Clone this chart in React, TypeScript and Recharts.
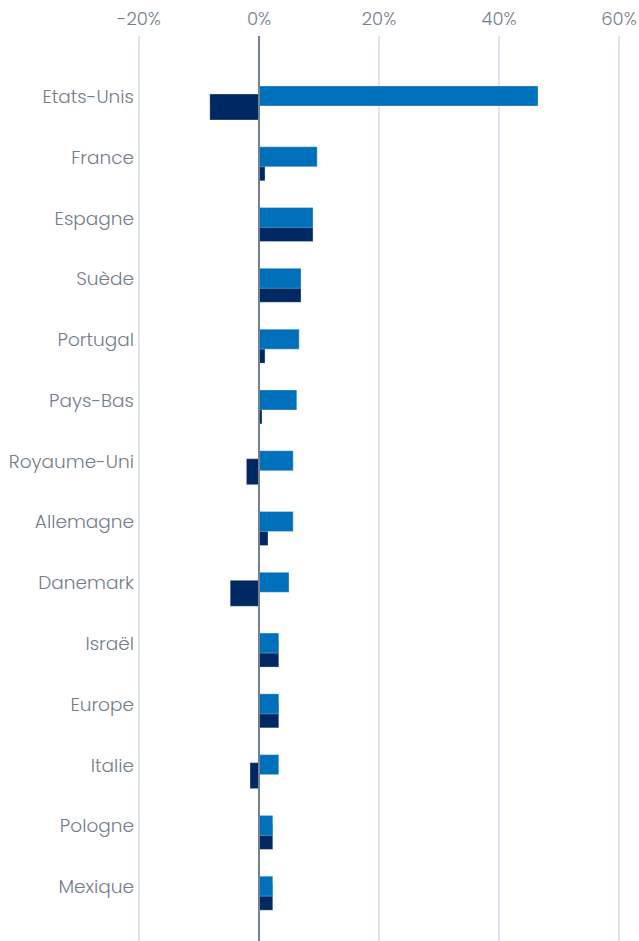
import React from 'react';
import { BarChart, Bar, XAxis, YAxis, CartesianGrid, ReferenceLine } from 'recharts';

const countries = [
  'Etats-Unis', 'France', 'Espagne', 'Suède', 'Portugal', 'Pays-Bas', 'Royaume-Uni',
  'Allemagne', 'Danemark', 'Israël', 'Europe', 'Italie', 'Pologne', 'Mexique',
];
const seriesA = [46.5, 9.7, 9.0, 7.0, 6.7, 6.3, 5.7, 5.7, 5.0, 3.3, 3.3, 3.3, 2.3, 2.3];
const seriesB = [-8.2, 1.0, 9.0, 7.0, 1.0, 0.5, -2.1, 1.5, -4.8, 3.3, 3.3, -1.5, 2.3, 2.3];
const xTicks = [-20, 0, 20, 40, 60];

const data = countries.map((name, i) => ({ name, a: seriesA[i], b: seriesB[i] }));

const textColor = '#737d8c';
const font = "Poppins, 'Open Sans', sans-serif";

export default function App() {
  return (
    <div style={{ position: 'absolute', left: 0, top: 0, width: 639, height: 941, overflow: 'hidden', background: '#fff' }}>
      <BarChart
        width={639}
        height={948}
        data={data}
        layout="vertical"
        margin={{ top: 0, right: 20, bottom: 0, left: 0 }}
      >
        <CartesianGrid horizontal={false} stroke="#dde5ee" strokeWidth={2} />
        <XAxis
          type="number"
          orientation="top"
          domain={[-20, 60]}
          ticks={xTicks}
          tickFormatter={(v) => `${v}%`}
          axisLine={false}
          tickLine={false}
          height={36}
          tickSize={6}
          tickMargin={5}
          tick={{ fill: textColor, fontSize: 18, fontFamily: font, fontWeight: 300 }}
        />
        <YAxis
          yAxisId="main"
          type="category"
          dataKey="name"
          width={139}
          axisLine={false}
          tickLine={false}
          tickSize={0}
          tickMargin={5}
          padding={{ top: 30, bottom: 31 }}
          interval={0}
          tick={{ fill: textColor, fontSize: 18.5, fontFamily: font, fontWeight: 300 }}
        />
        <YAxis
          yAxisId="shift"
          type="category"
          dataKey="name"
          hide
          padding={{ top: 41, bottom: 20 }}
        />
        <Bar
          dataKey="b"
          yAxisId="shift"
          fill="#002863"
          stroke="#ffffff"
          strokeOpacity={0.3}
          barSize={26}
          isAnimationActive={false}
        />
        <Bar
          dataKey="a"
          yAxisId="main"
          fill="#0070bb"
          stroke="#ffffff"
          strokeOpacity={0.3}
          barSize={20}
          isAnimationActive={false}
        />
        <ReferenceLine x={0} yAxisId="main" stroke="#75818f" strokeWidth={2} />
      </BarChart>
    </div>
  );
}
